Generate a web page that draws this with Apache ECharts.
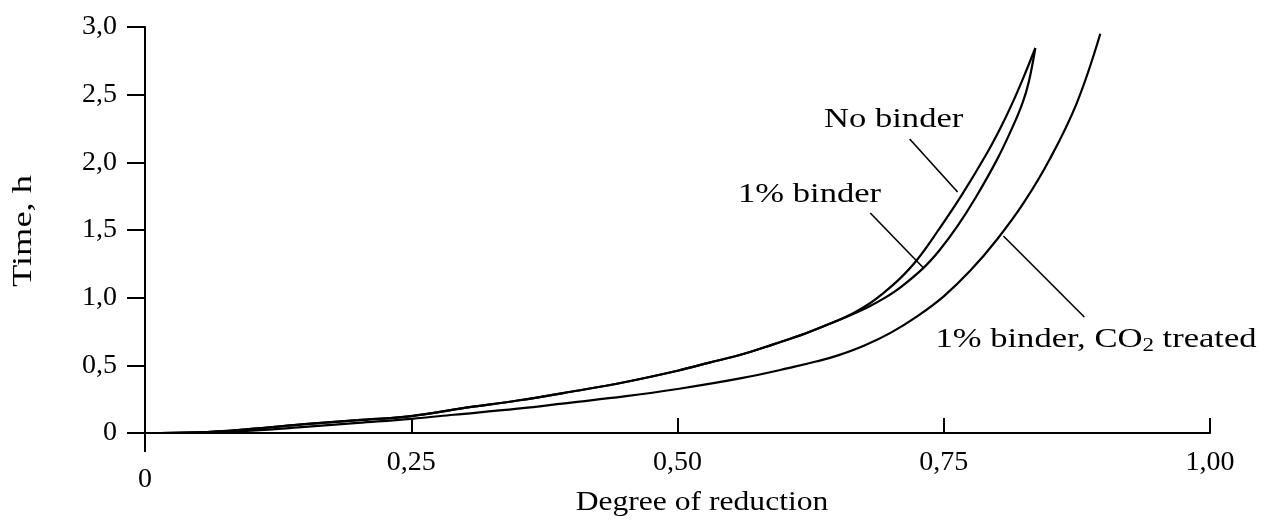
<!DOCTYPE html>
<html>
<head>
<meta charset="utf-8">
<script src="https://cdn.jsdelivr.net/npm/echarts@6/dist/echarts.min.js"></script>
<style>
  html, body { margin: 0; padding: 0; background: #fff; }
  #chart { width: 1280px; height: 531px; }
</style>
</head>
<body>
<div id="chart"></div>
<script>
// tick labels (decimal comma, as printed)
const xTickLabels = ['0', '0,25', '0,50', '0,75', '1,00'];
const yTickLabels = ['0', '0,5', '1,0', '1,5', '2,0', '2,5', '3,0'];

// curves: [degree of reduction, time h]
const noBinder = [
  [0, 0], [0.05, 0.005], [0.1, 0.03], [0.15, 0.065], [0.2, 0.095], [0.25, 0.125],
  [0.3, 0.185], [0.35, 0.24], [0.4, 0.305], [0.45, 0.375], [0.5, 0.46], [0.53, 0.52],
  [0.56, 0.58], [0.59, 0.655], [0.62, 0.735], [0.65, 0.83], [0.665, 0.885], [0.68, 0.955],
  [0.695, 1.045], [0.71, 1.15], [0.725, 1.28], [0.745, 1.5], [0.767, 1.76], [0.79, 2.06],
  [0.803, 2.25], [0.814, 2.43], [0.825, 2.63], [0.836, 2.845]
];
const binder1 = [
  [0, 0], [0.05, 0.005], [0.1, 0.03], [0.15, 0.065], [0.2, 0.095], [0.25, 0.125],
  [0.3, 0.185], [0.35, 0.24], [0.4, 0.305], [0.45, 0.375], [0.5, 0.46], [0.53, 0.52],
  [0.56, 0.58], [0.59, 0.655], [0.62, 0.735], [0.65, 0.83], [0.665, 0.88], [0.68, 0.935],
  [0.695, 1.0], [0.71, 1.08], [0.731, 1.22], [0.746, 1.35], [0.763, 1.53], [0.78, 1.74],
  [0.8, 2.02], [0.814, 2.25], [0.824, 2.44], [0.83, 2.6], [0.836, 2.845]
];
const binderCO2 = [
  [0, 0], [0.05, 0.003], [0.1, 0.018], [0.15, 0.045], [0.2, 0.075], [0.25, 0.105],
  [0.29, 0.135], [0.35, 0.18], [0.4, 0.225], [0.45, 0.27], [0.5, 0.325], [0.56, 0.405],
  [0.61, 0.49], [0.63, 0.528], [0.65, 0.572], [0.675, 0.645], [0.7, 0.74], [0.725, 0.862],
  [0.75, 1.01], [0.775, 1.2], [0.8, 1.43], [0.825, 1.7], [0.85, 2.03], [0.875, 2.44],
  [0.897, 2.95]
];

// annotation leaders and label anchors, in data units
const leaderNoBinder = [[0.718, 2.172], [0.763, 1.781]];
const leaderBinder1 = [[0.681, 1.626], [0.731, 1.219]];
const leaderCO2 = [[0.806, 1.456], [0.882, 0.857]];
const labelNoBinder = [0.703, 2.313];
const labelBinder1 = [0.624, 1.759];
const labelCO2 = [0.893, 0.687];

const FONT = '"Liberation Serif", "Times New Roman", serif';

const chart = echarts.init(document.getElementById('chart'));

function curve(name, data, extra) {
  return Object.assign({
    name: name,
    type: 'line',
    data: data,
    smooth: 0.4,
    showSymbol: false,
    symbol: 'none',
    silent: true,
    animation: false,
    lineStyle: { color: '#000', width: 2.2 }
  }, extra || {});
}

function leader(pts) {
  return [{ coord: pts[0] }, { coord: pts[1] }];
}

chart.setOption({
  backgroundColor: '#fff',
  animation: false,
  grid: { left: 145, right: 70, top: 27, bottom: 98, containLabel: false, outerBoundsMode: 'none' },
  xAxis: {
    type: 'value',
    min: 0,
    max: 1,
    interval: 0.25,
    axisLine: { show: true, onZero: false, lineStyle: { color: '#000', width: 2 } },
    axisTick: { show: true, inside: true, length: 15, lineStyle: { color: '#000', width: 2 } },
    splitLine: { show: false },
    axisLabel: {
      color: '#000',
      fontSize: 28,
      fontFamily: FONT,
      margin: 16,
      showMinLabel: true,
      showMaxLabel: true,
      formatter: function (v) {
        const i = Math.round(v / 0.25);
        return i === 0 ? '{low|' + xTickLabels[0] + '}' : xTickLabels[i];
      },
      rich: {
        low: { color: '#000', fontSize: 28, fontFamily: FONT, padding: [17, 0, 0, 0] }
      }
    }
  },
  yAxis: {
    type: 'value',
    min: 0,
    max: 3,
    interval: 0.5,
    axisLine: { show: true, onZero: false, lineStyle: { color: '#000', width: 2 } },
    axisTick: { show: true, inside: false, length: 18, lineStyle: { color: '#000', width: 2 } },
    splitLine: { show: false },
    axisLabel: {
      color: '#000',
      fontSize: 28,
      fontFamily: FONT,
      margin: 28,
      showMinLabel: true,
      showMaxLabel: true,
      formatter: function (v) {
        return yTickLabels[Math.round(v / 0.5)];
      }
    }
  },
  series: [
    curve('No binder', noBinder, {
      markLine: {
        silent: true,
        animation: false,
        symbol: ['none', 'none'],
        label: { show: false },
        lineStyle: { color: '#000', width: 1.6, type: 'solid' },
        emphasis: { disabled: true },
        data: [leader(leaderNoBinder), leader(leaderBinder1), leader(leaderCO2)]
      }
    }),
    curve('1% binder', binder1),
    curve('1% binder, CO2 treated', binderCO2)
  ]
});

// texts (the printed face is set wide, so stretch horizontally) and
// the short stub of the y axis below zero
function px(p) {
  return chart.convertToPixel({ xAxisIndex: 0, yAxisIndex: 0 }, p);
}
function note(x, y, text, stretch, rotation) {
  return {
    type: 'text',
    x: x,
    y: y,
    scaleX: stretch,
    rotation: rotation || 0,
    silent: true,
    style: {
      text: text,
      fill: '#000',
      font: '27px ' + FONT,
      align: 'center',
      verticalAlign: 'middle',
      rich: {
        sub: { fill: '#000', font: '18px ' + FONT, padding: [12, 0, 0, 0] }
      }
    }
  };
}
function dataNote(p, text) {
  const q = px(p);
  return note(q[0], q[1], text, 1.28);
}
const origin = px([0, 0]);
chart.setOption({
  graphic: [
    {
      type: 'line',
      silent: true,
      shape: { x1: origin[0], y1: origin[1], x2: origin[0], y2: origin[1] + 19 },
      style: { stroke: '#000', lineWidth: 2 }
    },
    dataNote(labelNoBinder, 'No binder'),
    dataNote(labelBinder1, '1% binder'),
    dataNote(labelCO2, '1% binder, CO{sub|2} treated'),
    note(702, 503, 'Degree of reduction', 1.17),
    note(24, 231, 'Time, h', 1.35, Math.PI / 2)
  ]
});
</script>
</body>
</html>
